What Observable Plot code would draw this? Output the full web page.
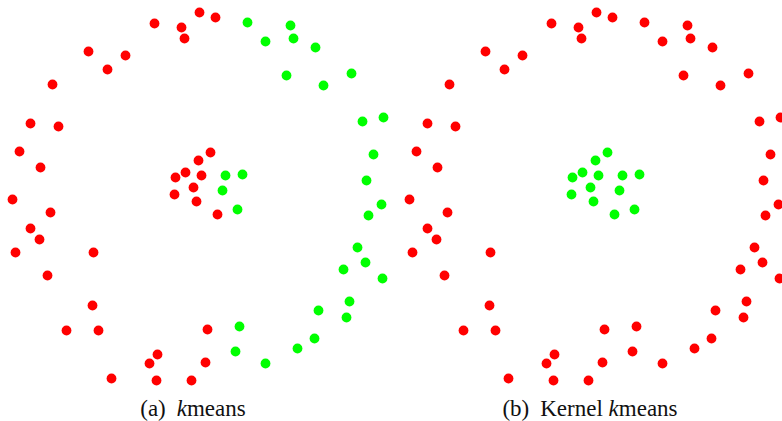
<!DOCTYPE html>
<html>
<head>
<meta charset="utf-8">
<script src="https://cdn.jsdelivr.net/npm/d3@7"></script>
<script src="https://cdn.jsdelivr.net/npm/@observablehq/plot@0.6"></script>
<style>
  html, body { margin: 0; padding: 0; background: #fff; overflow: hidden; }
  #wrap { display: flex; width: 782px; height: 421px; overflow: hidden; }
  .panel { flex: 0 0 397px; width: 397px; display: flex; flex-direction: column; }
  .panel svg { display: block; }
  .cap { width: 386px; text-align: center; font-family: "Liberation Serif", "Times New Roman", serif;
         font-size: 23px; line-height: 22px; color: #111; white-space: nowrap; }
  .cap .lab { margin-right: 11px; }
</style>
</head>
<body>
<div id="wrap"></div>
<script>
// Point coordinates (x to the right, y downward)
const xs = [
  199,154,181,184,215,88,125,107,52,30,58,19,40,12,50,30,39,15,93,47,92,66,98,157,149,111,156,191,207,205,
  247,290,293,265,315,286,351,323,362,383,373,366,381,368,357,365,343,382,349,318,346,239,314,297,235,265,
  210,198,185,175,201,193,174,196,217,
  225,242,222,237
];
const ys = [
  12,23,27,38,17,51,55,69,84,123,126,151,167,199,212,228,239,252,252,275,305,330,330,354,363,378,380,380,329,362,
  22,25,38,41,47,75,73,85,121,117,154,180,204,215,247,262,269,278,301,310,317,326,338,348,351,363,
  152,160,172,177,175,187,194,201,214,
  175,174,190,209
];
// cluster assignment: 0 = red, 1 = green
const kmeansCluster = [
  0,0,0,0,0,0,0,0,0,0,0,0,0,0,0,0,0,0,0,0,0,0,0,0,0,0,0,0,0,0,
  1,1,1,1,1,1,1,1,1,1,1,1,1,1,1,1,1,1,1,1,1,1,1,1,1,1,
  0,0,0,0,0,0,0,0,0,
  1,1,1,1
];
const kernelCluster = [
  0,0,0,0,0,0,0,0,0,0,0,0,0,0,0,0,0,0,0,0,0,0,0,0,0,0,0,0,0,0,
  0,0,0,0,0,0,0,0,0,0,0,0,0,0,0,0,0,0,0,0,0,0,0,0,0,0,
  1,1,1,1,1,1,1,1,1,
  1,1,1,1
];
const clusterColors = ["#ff0000", "#00ff00"];
const captions = [
  {label: "(a)", pre: "", it: "k", post: "means"},
  {label: "(b)", pre: "Kernel ", it: "k", post: "means"}
];

const W = 397, H = 398;
const wrap = document.getElementById("wrap");

[kmeansCluster, kernelCluster].forEach((cl, i) => {
  const data = xs.map((x, j) => ({x, y: ys[j], c: cl[j]}));
  const chart = Plot.plot({
    width: W, height: H,
    margin: 0,
    x: {domain: [0, W], range: [0, W], axis: null},
    y: {domain: [0, H], range: [0, H], axis: null},
    color: {domain: [0, 1], range: clusterColors, type: "ordinal"},
    marks: [
      Plot.dot(data, {x: "x", y: "y", fill: "c", r: 4.9, stroke: null})
    ]
  });
  chart.style.overflow = "visible";
  const panel = document.createElement("div");
  panel.className = "panel";
  panel.appendChild(chart);
  const cap = document.createElement("div");
  cap.className = "cap";
  const c = captions[i];
  cap.innerHTML = `<span class="lab">${c.label}</span>${c.pre}<i>${c.it}</i>${c.post}`;
  panel.appendChild(cap);
  wrap.appendChild(panel);
});
</script>
</body>
</html>
